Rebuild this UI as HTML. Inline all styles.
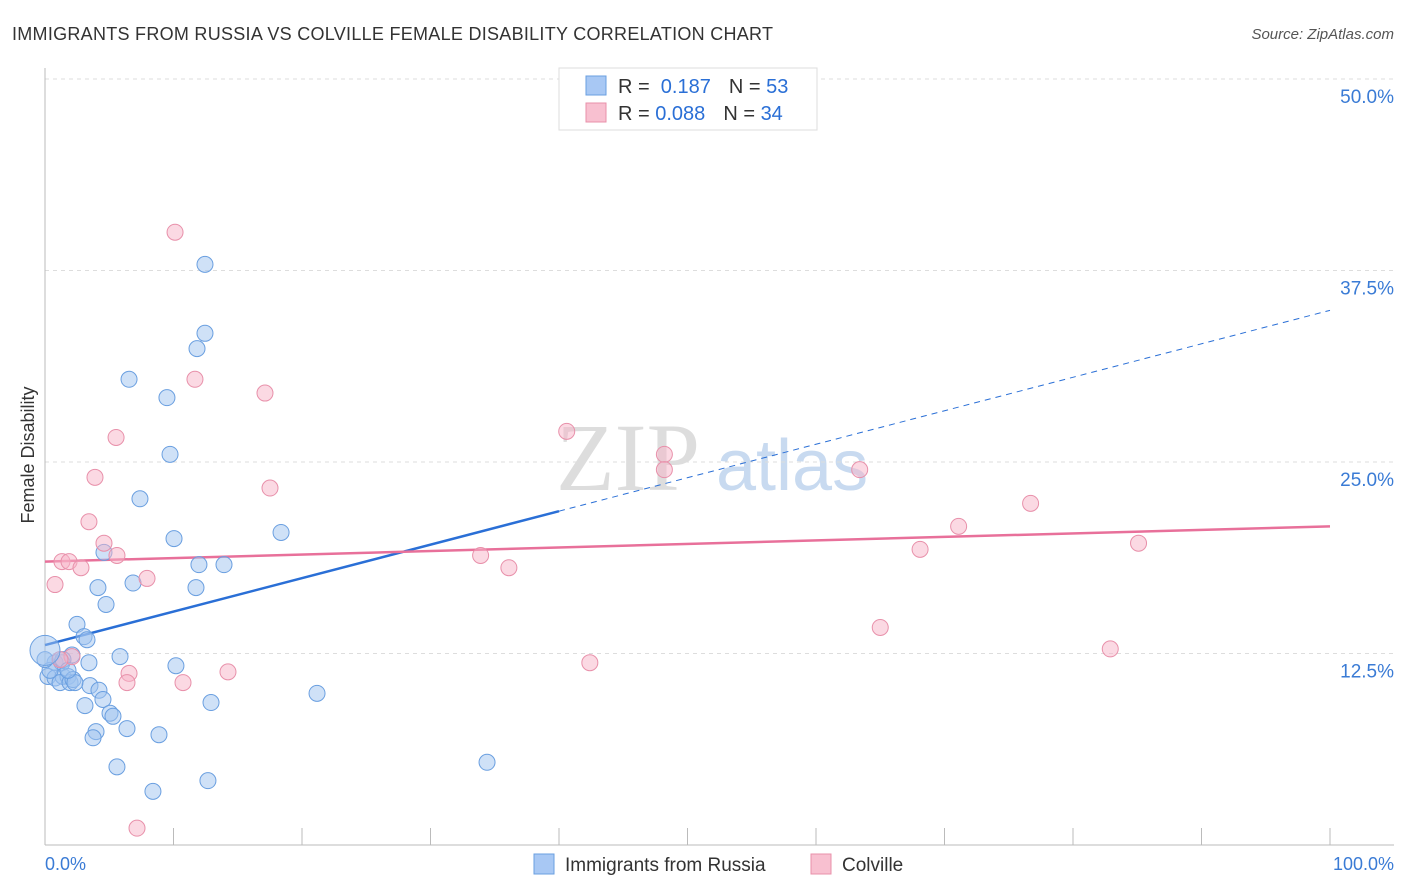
<!DOCTYPE html>
<html><head><meta charset="utf-8"><style>
body{margin:0;background:#fff;font-family:"Liberation Sans",sans-serif;}
svg{display:block}
</style></head><body>
<svg id="c" width="1406" height="892" xmlns="http://www.w3.org/2000/svg">
<text x="12" y="40" font-size="18" fill="#333" textLength="761" lengthAdjust="spacing">IMMIGRANTS FROM RUSSIA VS COLVILLE FEMALE DISABILITY CORRELATION CHART</text>
<text x="1394" y="39" font-size="15" fill="#555" text-anchor="end" font-style="italic">Source: ZipAtlas.com</text>
<text transform="translate(34,455) rotate(-90)" font-size="18" fill="#333" text-anchor="middle">Female Disability</text>
<text x="700" y="490" font-size="96" fill="#ddd" text-anchor="end" font-family="Liberation Serif">ZIP</text>
<text x="716" y="490" font-size="72" fill="#c8daf0">atlas</text>
<g id="grid"></g><g id="axes"></g><g id="lines"></g><g id="pts"></g>
<g>
<rect x="559" y="68" width="258" height="62" fill="#fff" stroke="#ddd"/>
<rect x="586" y="76" width="20" height="19" fill="#a8c8f4" stroke="#6a9fe0"/>
<rect x="586" y="103" width="20" height="19" fill="#f8c0d0" stroke="#e890aa"/>
<text x="618" y="93" font-size="20" fill="#333">R = <tspan fill="#2a6fd6">&#160;0.187</tspan><tspan dx="18" fill="#333">N = </tspan><tspan fill="#2a6fd6">53</tspan></text>
<text x="618" y="120" font-size="20" fill="#333">R = <tspan fill="#2a6fd6">0.088</tspan><tspan dx="18" fill="#333">N = </tspan><tspan fill="#2a6fd6">34</tspan></text>
</g>
<g>
<rect x="534" y="854" width="20" height="20" fill="#a8c8f4" stroke="#6a9fe0"/>
<text x="565" y="871" font-size="19" fill="#333">Immigrants from Russia</text>
<rect x="811" y="854" width="20" height="20" fill="#f8c0d0" stroke="#e890aa"/>
<text x="842" y="871" font-size="19" fill="#333">Colville</text>
</g>
<text x="45" y="870" font-size="18" fill="#3a7bd5">0.0%</text>
<text x="1394" y="870" font-size="18" fill="#3a7bd5" text-anchor="end">100.0%</text>
</svg>
<script>
const yTicks=[12.5,25,37.5,50];
const yTickLabels=["12.5%","25.0%","37.5%","50.0%"];
const blueX=[12.45,12.45,11.83,6.54,9.49,9.73,7.39,10.04,18.37,4.59,11.98,13.93,4.12,6.85,11.75,4.75,2.49,3.04,3.27,2.1,0.78,1.32,3.42,5.84,10.19,0.23,0.78,1.4,1.79,1.17,1.95,2.18,3.5,4.2,4.51,3.11,5.06,5.29,6.38,3.97,3.74,8.87,12.92,21.17,5.6,8.4,12.68,34.4,0.39,0,2.33,1.4,1.79];
const blueY=[37.9,33.4,32.4,30.4,29.2,25.5,22.6,20.0,20.4,19.1,18.3,18.3,16.8,17.1,16.8,15.7,14.4,13.6,13.4,12.4,11.9,11.9,11.9,12.3,11.7,11.0,10.9,11.0,11.0,10.6,10.6,10.8,10.4,10.1,9.5,9.1,8.6,8.4,7.6,7.4,7.0,7.2,9.3,9.9,5.1,3.5,4.2,5.4,11.4,12.1,10.6,12.1,11.4];
const pinkX=[10.12,11.67,17.12,5.53,3.89,3.42,4.59,5.6,1.32,1.87,2.8,7.94,0.78,17.51,40.6,48.2,48.2,63.4,33.9,36.1,76.7,71.1,68.1,85.1,65.0,82.9,42.4,6.54,14.24,6.38,10.74,2.1,7.16,1.17];
const pinkY=[40.0,30.4,29.5,26.6,24.0,21.1,19.7,18.9,18.5,18.5,18.1,17.4,17.0,23.3,27.0,25.5,24.5,24.5,18.9,18.1,22.3,20.8,19.3,19.7,14.2,12.8,11.9,11.2,11.3,10.6,10.6,12.3,1.1,12.1];
const blueTrend=[13.05,34.9];
const pinkTrend=[18.5,20.8];
const X0=45,X1=1330,Y0=845,Y1=79;
const sx=v=>X0+(X1-X0)*v/100, sy=v=>Y0-(Y0-Y1)*v/50;
const NS="http://www.w3.org/2000/svg";
function mk(t,a,p){const e=document.createElementNS(NS,t);for(const k in a)e.setAttribute(k,a[k]);p.appendChild(e);return e;}
const g=document.getElementById('grid'),ax=document.getElementById('axes'),ln=document.getElementById('lines'),pt=document.getElementById('pts');
yTicks.forEach((v,i)=>{const l=mk('line',{x1:X0,x2:1394,y1:sy(v),y2:sy(v),stroke:'#ddd','stroke-dasharray':'4,4'},g);


const t=mk('text',{x:1394,y:sy(v)+24,'font-size':19,fill:'#3a7bd5','text-anchor':'end'},g);t.textContent=yTickLabels[i];

});
const xa=mk('line',{x1:X0,x2:1394,y1:Y0,y2:Y0,stroke:'#bbb'},ax);


const ya=mk('line',{x1:X0,x2:X0,y1:68,y2:Y0,stroke:'#bbb'},ax);


for(let i=1;i<=10;i++){const t=mk('line',{x1:sx(i*10),x2:sx(i*10),y1:828,y2:Y0,stroke:'#bbb'},ax);

}
function pts(xs,ys,fill,stroke,name){xs.forEach((x,i)=>{const c=mk('circle',{cx:sx(x),cy:sy(ys[i]),r:8,fill,stroke,'stroke-width':1},pt);

});}
pts(blueX,blueY,'rgba(160,196,240,0.5)','#6a9fe0','russia-point');
pts(pinkX,pinkY,'rgba(248,180,200,0.5)','#e890aa','colville-point');
const big=mk('circle',{cx:sx(0),cy:sy(12.7),r:15,fill:'rgba(160,196,240,0.5)',stroke:'#6a9fe0'},pt);


const bt=v=>blueTrend[0]+(blueTrend[1]-blueTrend[0])*v/100;
const b1=mk('line',{x1:sx(0),y1:sy(bt(0)),x2:sx(40),y2:sy(bt(40)),stroke:'#2a6fd6','stroke-width':2.5},ln);


const b2=mk('line',{x1:sx(40),y1:sy(bt(40)),x2:sx(100),y2:sy(bt(100)),stroke:'#2a6fd6','stroke-width':1,'stroke-dasharray':'6,5'},ln);


const p1=mk('line',{x1:sx(0),y1:sy(pinkTrend[0]),x2:sx(100),y2:sy(pinkTrend[1]),stroke:'#e8709a','stroke-width':2.5},ln);


</script>
</body></html>
